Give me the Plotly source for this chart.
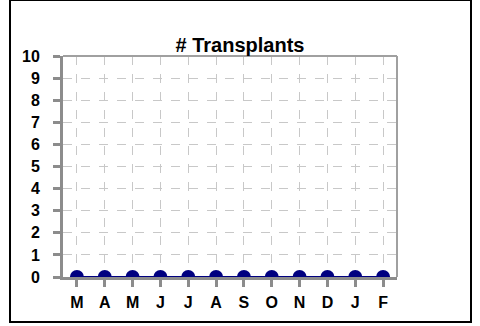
import plotly.graph_objects as go

months = ["M", "A", "M", "J", "J", "A", "S", "O", "N", "D", "J", "F"]
transplants = [0, 0, 0, 0, 0, 0, 0, 0, 0, 0, 0, 0]
y_ticks = list(range(0, 11))

# unique positions so repeated month letters stay separate categories
positions = list(range(len(months)))

fig = go.Figure()
fig.add_trace(go.Scatter(
    x=positions, y=transplants, mode="lines+markers",
    line=dict(color="#000080", width=2),
    marker=dict(color="#000080", size=14),
    cliponaxis=True, showlegend=False,
))

font = "Liberation Sans, Arial, sans-serif"
tick_font = dict(family=font, size=16, color="black", weight="bold")
fig.update_layout(
    width=480, height=326,
    margin=dict(l=63, r=83, t=56, b=49),
    paper_bgcolor="white", plot_bgcolor="white",
    title=dict(text="# Transplants", x=0.5, xanchor="center",
               y=1 - 45 / 326, yanchor="middle",
               font=dict(family=font, size=20, color="black", weight="bold")),
    font=dict(family=font, color="black"),
    xaxis=dict(
        range=[-0.5, len(months) - 0.5], tickmode="array",
        tickvals=positions, ticktext=months,
        tickfont=tick_font, ticks="outside", ticklen=7, tickwidth=3,
        tickcolor="#8c8c8c", showline=True, linecolor="#8c8c8c", linewidth=3,
        showgrid=True, gridcolor="#c8c8c8", griddash="dash", gridwidth=1,
        zeroline=False, fixedrange=True, ticklabelstandoff=2,
    ),
    yaxis=dict(
        range=[0, 10], tickmode="array", tickvals=y_ticks,
        ticktext=[str(v) for v in y_ticks],
        tickfont=tick_font, ticks="outside", ticklen=7, tickwidth=3,
        tickcolor="#8c8c8c", showline=True, linecolor="#8c8c8c", linewidth=3,
        showgrid=True, gridcolor="#c8c8c8", griddash="dash", gridwidth=1,
        zeroline=False, fixedrange=True, ticklabelstandoff=10,
    ),
    shapes=[
        # thin frame on the top and right of the plot area
        dict(type="line", xref="paper", yref="paper", x0=0, x1=1, y0=1, y1=1,
             line=dict(color="#a0a0a0", width=2)),
        dict(type="line", xref="paper", yref="paper", x0=1, x1=1, y0=0, y1=1,
             line=dict(color="#a0a0a0", width=2)),
        # outer border around the whole chart
        dict(type="rect", xref="paper", yref="paper",
             x0=(10 - 63) / 334, x1=(471 - 63) / 334,
             y0=(277 - 322) / 221, y1=(277 - 0) / 221,
             line=dict(color="black", width=2), layer="below"),
    ],
)

fig.write_html("out.html")
